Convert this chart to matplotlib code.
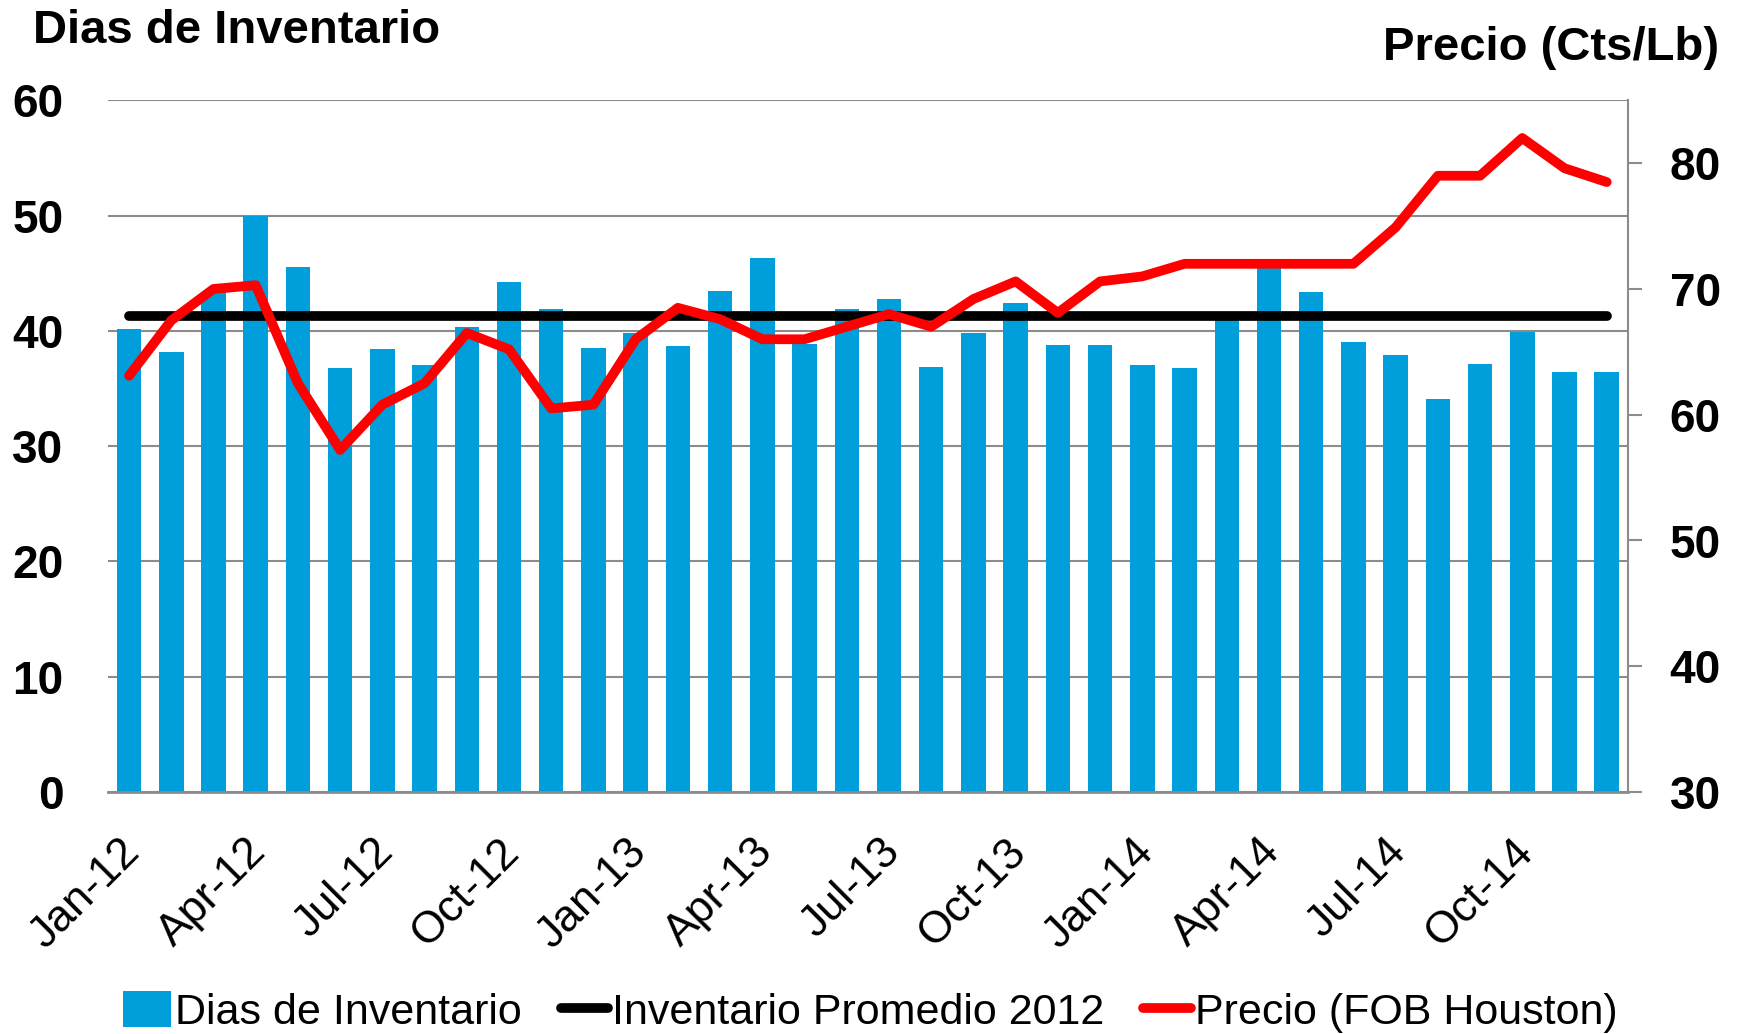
import matplotlib
matplotlib.use("Agg")
import matplotlib.pyplot as plt
import matplotlib.transforms as mtransforms
import numpy as np
from matplotlib.patches import Patch
from matplotlib.lines import Line2D

plt.rcParams['font.family'] = ['Liberation Sans', 'DejaVu Sans']

# months Jan-12 .. Dec-14
months = ["Jan-12", "Feb-12", "Mar-12", "Apr-12", "May-12", "Jun-12",
          "Jul-12", "Aug-12", "Sep-12", "Oct-12", "Nov-12", "Dec-12",
          "Jan-13", "Feb-13", "Mar-13", "Apr-13", "May-13", "Jun-13",
          "Jul-13", "Aug-13", "Sep-13", "Oct-13", "Nov-13", "Dec-13",
          "Jan-14", "Feb-14", "Mar-14", "Apr-14", "May-14", "Jun-14",
          "Jul-14", "Aug-14", "Sep-14", "Oct-14", "Nov-14", "Dec-14"]

# days of inventory (left axis)
dias = [40.2, 38.2, 43.4, 50.0, 45.5, 36.8, 38.4, 37.0, 40.3, 44.2, 41.9, 38.5,
        39.8, 38.7, 43.5, 46.3, 38.9, 41.9, 42.8, 36.9, 39.8, 42.4, 38.8, 38.8,
        37.0, 36.8, 41.3, 45.6, 43.4, 39.0, 37.9, 34.1, 37.1, 39.9, 36.4, 36.4]

# average inventory 2012
promedio_2012 = 41.3

# price FOB Houston (right axis, cts/lb)
precio = [63.1, 67.5, 70.0, 70.3, 62.5, 57.2, 60.8, 62.5, 66.5, 65.2, 60.5, 60.8,
          66.0, 68.5, 67.6, 66.0, 66.0, 67.0, 68.0, 67.0, 69.2, 70.6, 68.1, 70.6,
          71.0, 72.0, 72.0, 72.0, 72.0, 72.0, 74.9, 79.0, 79.0, 82.0, 79.6, 78.5]

tick_labels = ["Jan-12", "Apr-12", "Jul-12", "Oct-12", "Jan-13", "Apr-13",
               "Jul-13", "Oct-13", "Jan-14", "Apr-14", "Jul-14", "Oct-14"]

blue = "#009FDB"
grid_col = "#8C8C8C"

fig = plt.figure(figsize=(17.41, 10.34), dpi=100)
ax = fig.add_axes([0.062, 0.234, 0.873, 0.669])

x = np.arange(len(months))
ax.bar(x, dias, width=0.58, color=blue, zorder=2)
ax.plot([x[0], x[-1]], [promedio_2012] * 2, color="black", lw=7,
        solid_capstyle="round", zorder=3)

ax.set_xlim(-0.5, len(months) - 0.5)
ax.set_ylim(0, 60)
ax.set_yticks(range(0, 61, 10))
ax.grid(axis="y", color=grid_col, lw=1.5, zorder=0)
ax.set_axisbelow(True)
for s in ["left", "top", "right"]:
    ax.spines[s].set_visible(False)
ax.spines["bottom"].set_color(grid_col)
ax.spines["bottom"].set_linewidth(2)
ax.tick_params(axis="y", length=0, pad=32, labelsize=33)
for lab in ax.get_yticklabels():
    lab.set_fontweight("bold")

tick_pos = [months.index(t) for t in tick_labels]
ax.set_xticks(tick_pos)
ax.set_xticklabels(tick_labels, rotation=45, ha="right", va="top",
                   rotation_mode="anchor", fontsize=32)
ax.tick_params(axis="x", length=0, pad=28)
# nudge rotated labels a little to the left
shift = mtransforms.ScaledTranslation(-0.10, 0, fig.dpi_scale_trans)
for lab in ax.get_xticklabels():
    lab.set_transform(lab.get_transform() + shift)

ax2 = ax.twinx()
ax2.plot(x, precio, color="#FF0000", lw=7, solid_joinstyle="round",
         solid_capstyle="round", zorder=4)
ax2.set_ylim(30, 85)
ax2.set_yticks(range(30, 81, 10))
for s in ["left", "top", "bottom"]:
    ax2.spines[s].set_visible(False)
ax2.spines["right"].set_color(grid_col)
ax2.spines["right"].set_linewidth(1.5)
ax2.tick_params(axis="y", length=10, width=1.5, color=grid_col, pad=20,
                labelsize=33)
for lab in ax2.get_yticklabels():
    lab.set_fontweight("bold")

fig.text(33 / 1741, 1 - 31 / 1034, "Dias de Inventario", fontsize=34,
         fontweight="bold", va="center", ha="left")
fig.text(1719 / 1741, 1 - 48 / 1034, "Precio (Cts/Lb)", fontsize=34,
         fontweight="bold", va="center", ha="right")

handles = [Patch(facecolor=blue),
           Line2D([0], [0], color="black", lw=7, solid_capstyle="round"),
           Line2D([0], [0], color="#FF0000", lw=7, solid_capstyle="round")]
labels = ["Dias de Inventario", "Inventario Promedio 2012", "Precio (FOB Houston)"]
fig.legend(handles, labels, loc="center", bbox_to_anchor=(0.5, 1 - 1012 / 1034),
           ncol=3, frameon=False, fontsize=31, handlelength=1.1,
           handletextpad=0.1, columnspacing=0.9, handleheight=0.9)

fig.savefig("out.png", dpi=100)
